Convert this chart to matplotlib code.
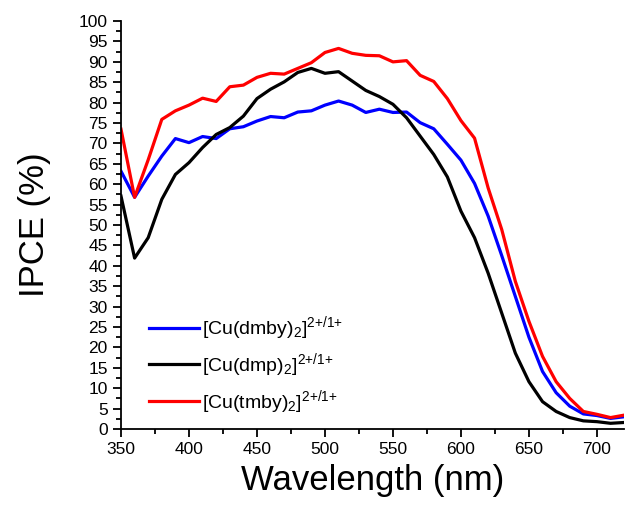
import matplotlib
matplotlib.use("Agg")
import matplotlib.pyplot as plt
from matplotlib.ticker import MultipleLocator

plt.rcParams['font.family'] = ['Liberation Sans', 'DejaVu Sans']
plt.rcParams['mathtext.default'] = 'regular'

# IPCE spectra, 350-720 nm every 10 nm
wavelength = list(range(350, 721, 10))

ipce_dmby = [63.2, 56.8, 62.0, 66.9, 71.2, 70.2, 71.7, 71.2, 73.6, 74.1,
             75.5, 76.6, 76.3, 77.7, 78.0, 79.4, 80.4, 79.4, 77.6, 78.4,
             77.6, 77.7, 75.1, 73.6, 69.8, 65.9, 60.2, 52.2, 42.5, 32.5,
             22.5, 14.1, 8.9, 5.6, 3.7, 3.3, 2.6, 3.0]

ipce_dmp = [57.1, 41.9, 46.9, 56.3, 62.4, 65.3, 69.0, 72.2, 73.9, 76.7,
            81.0, 83.3, 85.1, 87.4, 88.4, 87.2, 87.6, 85.3, 83.0, 81.5,
            79.6, 76.3, 71.8, 67.3, 61.8, 53.4, 46.9, 38.2, 28.4, 18.6,
            11.6, 6.7, 4.3, 2.8, 2.0, 1.8, 1.4, 1.6]

ipce_tmby = [73.5, 56.8, 66.0, 75.9, 78.0, 79.4, 81.1, 80.3, 83.9, 84.3,
             86.2, 87.2, 87.0, 88.4, 89.8, 92.3, 93.3, 92.1, 91.6, 91.5,
             90.0, 90.3, 86.7, 85.2, 81.0, 75.6, 71.3, 59.1, 48.9, 36.2,
             26.4, 17.8, 11.6, 7.5, 4.3, 3.6, 2.8, 3.4]

labels = [r'[Cu(dmby)$_2$]$^{2{+}/1{+}}$',
          r'[Cu(dmp)$_2$]$^{2{+}/1{+}}$',
          r'[Cu(tmby)$_2$]$^{2{+}/1{+}}$']
colors = ['#0000ff', '#000000', '#ff0000']

fig = plt.figure(figsize=(6.26, 5.08), dpi=100)
ax = fig.add_axes([0.1933, 0.1555, 0.8037, 0.803])

for y, lab, c in zip([ipce_dmby, ipce_dmp, ipce_tmby], labels, colors):
    ax.plot(wavelength, y, color=c, lw=2.3, label=lab)

ax.set_xlim(350, 720)
ax.set_ylim(0, 100)
ax.xaxis.set_major_locator(MultipleLocator(50))
ax.xaxis.set_minor_locator(MultipleLocator(25))
ax.yaxis.set_major_locator(MultipleLocator(5))
ax.yaxis.set_minor_locator(MultipleLocator(2.5))

for s in ['top', 'right']:
    ax.spines[s].set_visible(False)
for s in ['left', 'bottom']:
    ax.spines[s].set_linewidth(1.3)

ax.tick_params(which='major', direction='out', length=6, width=1.3, labelsize=12.5)
ax.tick_params(which='minor', direction='out', length=3.5, width=1.3)

ax.set_xlabel('Wavelength (nm)', fontsize=25, labelpad=5)
ax.set_ylabel('IPCE (%)', fontsize=25, labelpad=20)

ax.legend(loc='lower left', bbox_to_anchor=(0.02, -0.01), frameon=False,
          fontsize=14, handlelength=2.6, handletextpad=0.15, labelspacing=0.45)

fig.savefig('out.png', dpi=100)
